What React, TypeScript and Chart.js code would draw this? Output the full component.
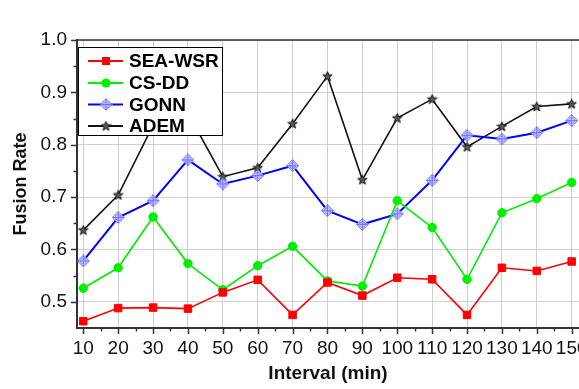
import React, { useEffect, useRef } from 'react';
import { Chart, registerables } from 'chart.js';

Chart.register(...registerables);

const intervals = [10, 20, 30, 40, 50, 60, 70, 80, 90, 100, 110, 120, 130, 140, 150];
const seaWsr = [0.463, 0.488, 0.489, 0.487, 0.518, 0.542, 0.475, 0.537, 0.512, 0.546, 0.543, 0.475, 0.565, 0.559, 0.577];
const csDd = [0.526, 0.565, 0.662, 0.573, 0.523, 0.569, 0.606, 0.540, 0.530, 0.693, 0.642, 0.543, 0.670, 0.697, 0.728];
const gonn = [0.578, 0.661, 0.693, 0.771, 0.725, 0.741, 0.760, 0.674, 0.648, 0.668, 0.732, 0.818, 0.811, 0.823, 0.846];
const adem = [0.637, 0.704, 0.837, 0.860, 0.739, 0.756, 0.840, 0.931, 0.733, 0.851, 0.887, 0.796, 0.835, 0.873, 0.878];
const seriesNames = ['SEA-WSR', 'CS-DD', 'GONN', 'ADEM'];
const xTicks = [10, 20, 30, 40, 50, 60, 70, 80, 90, 100, 110, 120, 130, 140, 150];
const xMinorTicks = [15, 25, 35, 45, 55, 65, 75, 85, 95, 105, 115, 125, 135, 145];
const yTicks = [0.5, 0.6, 0.7, 0.8, 0.9, 1.0];
const yMinorTicks = [0.55, 0.65, 0.75, 0.85, 0.95];
const xTitle = 'Interval (min)';
const yTitle = 'Fusion Rate';

const FONT = "'Liberation Sans', Arial, sans-serif";

function makeDiamond(): HTMLCanvasElement {
  const c = document.createElement('canvas');
  c.width = 13;
  c.height = 13;
  const g = c.getContext('2d')!;
  g.strokeStyle = '#6e6eff';
  g.lineWidth = 1;
  g.fillStyle = 'rgba(235,235,255,0.8)';
  g.beginPath();
  g.moveTo(6.5, 0.5);
  g.lineTo(12.5, 6.5);
  g.lineTo(6.5, 12.5);
  g.lineTo(0.5, 6.5);
  g.closePath();
  g.fill();
  g.stroke();
  g.beginPath();
  g.arc(6.5, 6.5, 3, 0, Math.PI * 2);
  g.moveTo(6.5, 1);
  g.lineTo(6.5, 12);
  g.moveTo(1, 6.5);
  g.lineTo(12, 6.5);
  g.stroke();
  return c;
}

function makeStar(): HTMLCanvasElement {
  const c = document.createElement('canvas');
  c.width = 11;
  c.height = 11;
  const g = c.getContext('2d')!;
  g.fillStyle = '#5a5a5a';
  g.strokeStyle = '#111';
  g.lineWidth = 1;
  g.beginPath();
  for (let i = 0; i < 10; i++) {
    const r = i % 2 === 0 ? 5 : 2.1;
    const a = -Math.PI / 2 + (i * Math.PI) / 5;
    const px = 5.5 + r * Math.cos(a);
    const py = 5.8 + r * Math.sin(a);
    if (i === 0) g.moveTo(px, py);
    else g.lineTo(px, py);
  }
  g.closePath();
  g.fill();
  g.stroke();
  return c;
}

export default function App() {
  const ref = useRef<HTMLCanvasElement | null>(null);

  useEffect(() => {
    if (!ref.current) return;
    const diamond = makeDiamond();
    const star = makeStar();
    const seriesValues = [seaWsr, csDd, gonn, adem];
    const colors = ['#ff0000', '#00ee00', '#0000ff', '#111111'];
    const styles: any[] = ['rect', 'circle', diamond, star];
    const radii = [5.3, 4.2, 6, 6];
    const widths = [1.6, 1.6, 2, 1.6];

    const datasets = seriesNames.map((name, i) => ({
      label: name,
      data: intervals.map((x, j) => ({ x, y: seriesValues[i][j] })),
      borderColor: colors[i],
      backgroundColor: colors[i],
      borderWidth: widths[i],
      pointStyle: styles[i],
      pointRadius: radii[i],
      pointBorderWidth: 1,
      pointBorderColor: colors[i],
      pointBackgroundColor: colors[i],
      tension: 0,
    }));

    const decor = {
      id: 'decor',
      afterDatasetsDraw(chart: any) {
        const { ctx } = chart;
        ctx.save();
        const bx = 78, by = 47, bw = 144, bh = 88;
        ctx.fillStyle = '#ffffff';
        ctx.fillRect(bx, by, bw, bh);
        ctx.strokeStyle = '#000';
        ctx.lineWidth = 1;
        ctx.strokeRect(bx + 0.5, by + 0.5, bw, bh);
        const rowY = [61, 83, 104.5, 126];
        seriesNames.forEach((name, i) => {
          const y = rowY[i];
          ctx.strokeStyle = colors[i];
          ctx.lineWidth = 2;
          ctx.beginPath();
          ctx.moveTo(88, y);
          ctx.lineTo(123, y);
          ctx.stroke();
          ctx.fillStyle = colors[i];
          ctx.strokeStyle = colors[i];
          ctx.lineWidth = 1;
          if (styles[i] === 'rect') {
            ctx.fillRect(102, y - 4, 8, 8);
          } else if (styles[i] === 'circle') {
            ctx.beginPath();
            ctx.arc(106, y, 4.5, 0, Math.PI * 2);
            ctx.fill();
          } else {
            const img = styles[i] as HTMLCanvasElement;
            ctx.drawImage(img, 106 - img.width / 2, y - img.height / 2);
          }
          ctx.fillStyle = '#000';
          ctx.font = `bold 19px ${FONT}`;
          ctx.textBaseline = 'middle';
          ctx.textAlign = 'left';
          ctx.fillText(name, 129, y + 1);
        });
        ctx.restore();
      },
      afterDraw(chart: any) {
        const { ctx, chartArea } = chart;
        const { left, right, top, bottom } = chartArea;
        const xs = chart.scales.x;
        const ys = chart.scales.y;
        ctx.save();
        ctx.strokeStyle = '#333';
        ctx.lineWidth = 1.5;
        ctx.beginPath();
        ctx.moveTo(left - 1, top);
        ctx.lineTo(right, top);
        ctx.stroke();
        ctx.lineWidth = 1.5;
        ctx.beginPath();
        xTicks.forEach((v) => {
          const px = Math.round(xs.getPixelForValue(v)) + 0.5;
          ctx.moveTo(px, bottom);
          ctx.lineTo(px, bottom + 6);
        });
        xMinorTicks.forEach((v) => {
          const px = Math.round(xs.getPixelForValue(v)) + 0.5;
          ctx.moveTo(px, bottom);
          ctx.lineTo(px, bottom + 3.5);
        });
        yTicks.forEach((v) => {
          const py = Math.round(ys.getPixelForValue(v)) + 0.5;
          ctx.moveTo(left, py);
          ctx.lineTo(left - 6, py);
        });
        yMinorTicks.forEach((v) => {
          const py = Math.round(ys.getPixelForValue(v)) + 0.5;
          ctx.moveTo(left, py);
          ctx.lineTo(left - 3.5, py);
        });
        ctx.stroke();
        ctx.restore();
      },
    };

    const chart = new Chart(ref.current, {
      type: 'line',
      data: { datasets } as any,
      options: {
        responsive: false,
        animation: false,
        layout: { autoPadding: false, padding: { top: 40, left: 0, right: 0, bottom: 0 } },
        plugins: { legend: { display: false }, tooltip: { enabled: false } },
        scales: {
          x: {
            type: 'linear',
            min: 8.2,
            max: 152.1,
            afterBuildTicks: (s: any) => {
              s.ticks = xTicks.map((v) => ({ value: v }));
            },
            afterFit: (s: any) => {
              s.height = 61;
              s.paddingLeft = 0;
              s.paddingRight = 0;
              if (s._margins) {
                s._margins.left = 0;
                s._margins.right = 0;
              }
            },
            grid: { color: '#cfcfcf', lineWidth: 1, drawTicks: false },
            border: { display: true, color: '#333', width: 2 },
            ticks: {
              autoSkip: false,
              maxRotation: 0,
              padding: 9,
              color: '#111',
              font: { family: FONT, size: 19 },
              callback: (v: any) => String(v),
            },
            title: {
              display: true,
              text: xTitle,
              color: '#111',
              font: { family: FONT, size: 19, weight: 'bold' },
              padding: { top: 0, bottom: 4 },
            },
          },
          y: {
            type: 'linear',
            min: 0.45,
            max: 1.0,
            afterBuildTicks: (s: any) => {
              s.ticks = yTicks.map((v) => ({ value: v }));
            },
            afterFit: (s: any) => {
              s.width = 77;
            },
            grid: { color: '#cfcfcf', lineWidth: 1, drawTicks: false },
            border: { display: true, color: '#333', width: 2 },
            ticks: {
              padding: 10,
              color: '#111',
              font: { family: FONT, size: 19 },
              callback: (v: any) => Number(v).toFixed(1),
            },
            title: {
              display: true,
              text: yTitle,
              color: '#111',
              font: { family: FONT, size: 18, weight: 'bold' },
              padding: { top: 10, bottom: 0 },
            },
          },
        },
      } as any,
      plugins: [decor],
    });

    return () => chart.destroy();
  }, []);

  return (
    <div style={{ position: 'fixed', left: 0, top: 0, width: 579, height: 389, background: '#fff' }}>
      <canvas ref={ref} width={579} height={389} style={{ display: 'block', width: 579, height: 389 }} />
    </div>
  );
}
